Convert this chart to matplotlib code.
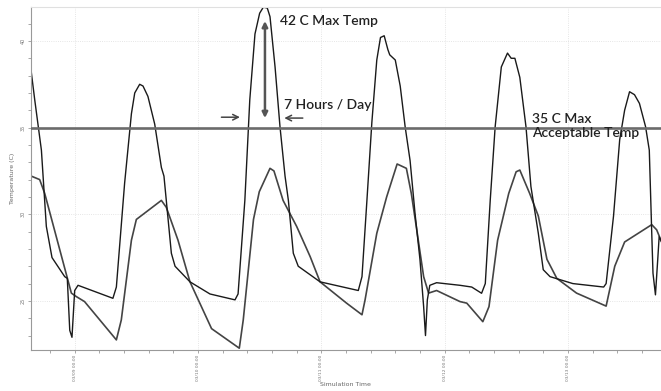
import matplotlib
matplotlib.use("Agg")
import matplotlib.pyplot as plt
from matplotlib.ticker import MultipleLocator, FixedLocator

# Time axis in days from 03/09 00:00
day_ticks = [0, 1, 2, 3, 4]
day_labels = ["03/09 00:00", "03/10 00:00", "03/11 00:00", "03/12 00:00", "03/13 00:00"]

# Series 1: large swing
t_a = [-0.352, -0.324, -0.27, -0.23, -0.184, -0.081, -0.06, -0.04, -0.022, 0.0, 0.027,
       0.31, 0.338, 0.405, 0.46, 0.487, 0.527, 0.554, 0.594, 0.649, 0.703, 0.724, 0.784,
       0.814, 0.935, 1.097, 1.30, 1.325, 1.38, 1.42, 1.462, 1.50, 1.53, 1.562, 1.584,
       1.625, 1.665, 1.706, 1.733, 1.773, 1.813, 1.99, 2.30, 2.33, 2.37, 2.41, 2.45, 2.48,
       2.51, 2.54, 2.555, 2.60, 2.64, 2.68, 2.72, 2.76, 2.80, 2.83, 2.845, 2.86, 2.88,
       2.935, 3.125, 3.22, 3.30, 3.33, 3.37, 3.41, 3.46, 3.51, 3.54, 3.57, 3.61, 3.66,
       3.70, 3.76, 3.80, 3.855, 4.04, 4.29, 4.31, 4.37, 4.42, 4.46, 4.50, 4.54, 4.58,
       4.63, 4.66, 4.68, 4.69, 4.71, 4.73, 4.74, 4.76]
temp_a = [38.2, 36.6, 33.7, 29.3, 27.5, 26.4, 26.3, 23.3, 22.9, 25.6, 25.9,
          25.15, 25.8, 31.8, 35.8, 37.0, 37.5, 37.4, 36.8, 35.2, 32.7, 32.2, 27.75,
          27.0, 26.1, 25.4, 25.06, 25.4, 30.8, 36.6, 40.4, 41.6, 41.95, 41.9, 41.4,
          38.5, 35.05, 32.2, 30.8, 27.75, 27.0, 26.1, 25.6, 26.4, 30.8, 35.3, 38.9, 40.2,
          40.3, 39.5, 39.2, 38.9, 37.4, 35.05, 33.1, 30.06, 27.4, 24.67, 23.0, 25.06, 25.9,
          26.05, 25.9, 25.8, 25.44, 26.0, 30.8, 35.05, 38.5, 39.3, 39.0, 39.0, 37.9, 35.05,
          31.6, 28.9, 26.8, 26.4, 26.0, 25.8, 26.0, 29.9, 34.3, 36.0, 37.07, 36.9, 36.4,
          35.05, 33.7, 28.9, 26.6, 25.35, 27.55, 28.7, 28.4]

# Series 2: smaller swing
t_b = [-0.352, -0.284, -0.243, -0.027, 0.013, 0.08, 0.338, 0.378, 0.46, 0.50, 0.703,
       0.743, 0.838, 0.935, 1.11, 1.335, 1.367, 1.45, 1.497, 1.584, 1.616, 1.69, 1.80,
       1.91, 1.99, 2.205, 2.33, 2.355, 2.45, 2.53, 2.615, 2.69, 2.73, 2.77, 2.83, 2.87,
       2.935, 3.125, 3.18, 3.31, 3.36, 3.43, 3.52, 3.58, 3.61, 3.69, 3.76, 3.83, 3.91,
       4.07, 4.31, 4.38, 4.46, 4.68, 4.72, 4.76]
temp_b = [32.2, 32.0, 31.2, 25.45, 25.25, 24.96, 22.75, 23.9, 28.5, 29.7, 30.8,
          30.4, 28.5, 26.1, 23.4, 22.27, 23.9, 29.7, 31.3, 32.65, 32.5, 30.8, 29.3,
          27.55, 26.1, 24.87, 24.2, 25.06, 28.9, 31.0, 32.9, 32.65, 31.2, 29.3, 26.4, 25.45,
          25.6, 24.96, 24.87, 23.8, 24.67, 28.5, 31.2, 32.45, 32.55, 31.2, 29.9, 27.4, 26.3,
          25.45, 24.7, 27.0, 28.4, 29.4, 29.1, 28.4]

limit_temp = 35

fig = plt.figure(figsize=(6.61, 3.91), dpi=100)
ax = fig.add_axes([0.0464, 0.105, 0.9536, 0.878])

ax.plot(t_b, temp_b, color="#444444", lw=1.2, zorder=2)
ax.plot(t_a, temp_a, color="#1a1a1a", lw=1.0, zorder=2)
ax.axhline(limit_temp, color="#6b6b6b", lw=1.9, zorder=3)

ax.set_xlim(-0.357, 4.755)
ax.set_ylim(22.17, 41.98)

# axes styling
ax.spines["right"].set_visible(False)
ax.spines["top"].set_color("#e0e0e0")
ax.spines["left"].set_color("#999999")
ax.spines["bottom"].set_color("#999999")

ax.xaxis.set_major_locator(FixedLocator(day_ticks))
ax.set_xticklabels(day_labels, rotation=90, fontsize=3.2, color="#777777")
ax.xaxis.set_minor_locator(MultipleLocator(0.2))
ax.yaxis.set_major_locator(MultipleLocator(5))
ax.yaxis.set_minor_locator(MultipleLocator(1))
ax.tick_params(axis="y", labelsize=3.5, labelcolor="#777777", labelrotation=90)
ax.tick_params(which="both", color="#999999", length=2, width=0.6, pad=1.5)
for lab in ax.get_yticklabels():
    lab.set_va("center")
ax.grid(True, which="major", color="#dddddd", lw=0.6, ls=":")

ax.set_xlabel("Simulation Time", fontsize=4.5, color="#666666", labelpad=0.5)
ax.set_ylabel("Temperature (C)", fontsize=4.5, color="#666666", labelpad=4)

# annotations
txt = dict(fontsize=10, color="#222222", fontweight="semibold",
           family=["Lato", "DejaVu Sans"])
ax.annotate("", xy=(1.543, 41.15), xytext=(1.543, 35.55),
            arrowprops=dict(arrowstyle="<|-|>", color="#555555", lw=1.8,
                            mutation_scale=8, shrinkA=0, shrinkB=0), zorder=4)
ax.annotate("", xy=(1.34, 35.6), xytext=(1.19, 35.6),
            arrowprops=dict(arrowstyle="->", color="#444444", lw=1.1,
                            shrinkA=0, shrinkB=0), zorder=4)
ax.annotate("", xy=(1.70, 35.55), xytext=(1.85, 35.55),
            arrowprops=dict(arrowstyle="->", color="#444444", lw=1.1,
                            shrinkA=0, shrinkB=0), zorder=4)
ax.text(1.665, 41.13, "42 C Max Temp", va="center", ha="left", **txt)
ax.text(1.70, 36.3, "7 Hours / Day", va="center", ha="left", **txt)
ax.text(3.71, 35.5, "35 C Max", va="center", ha="left", **txt)
ax.text(3.71, 34.67, "Acceptable Temp", va="center", ha="left", **txt)

fig.savefig("out.png", dpi=100)
